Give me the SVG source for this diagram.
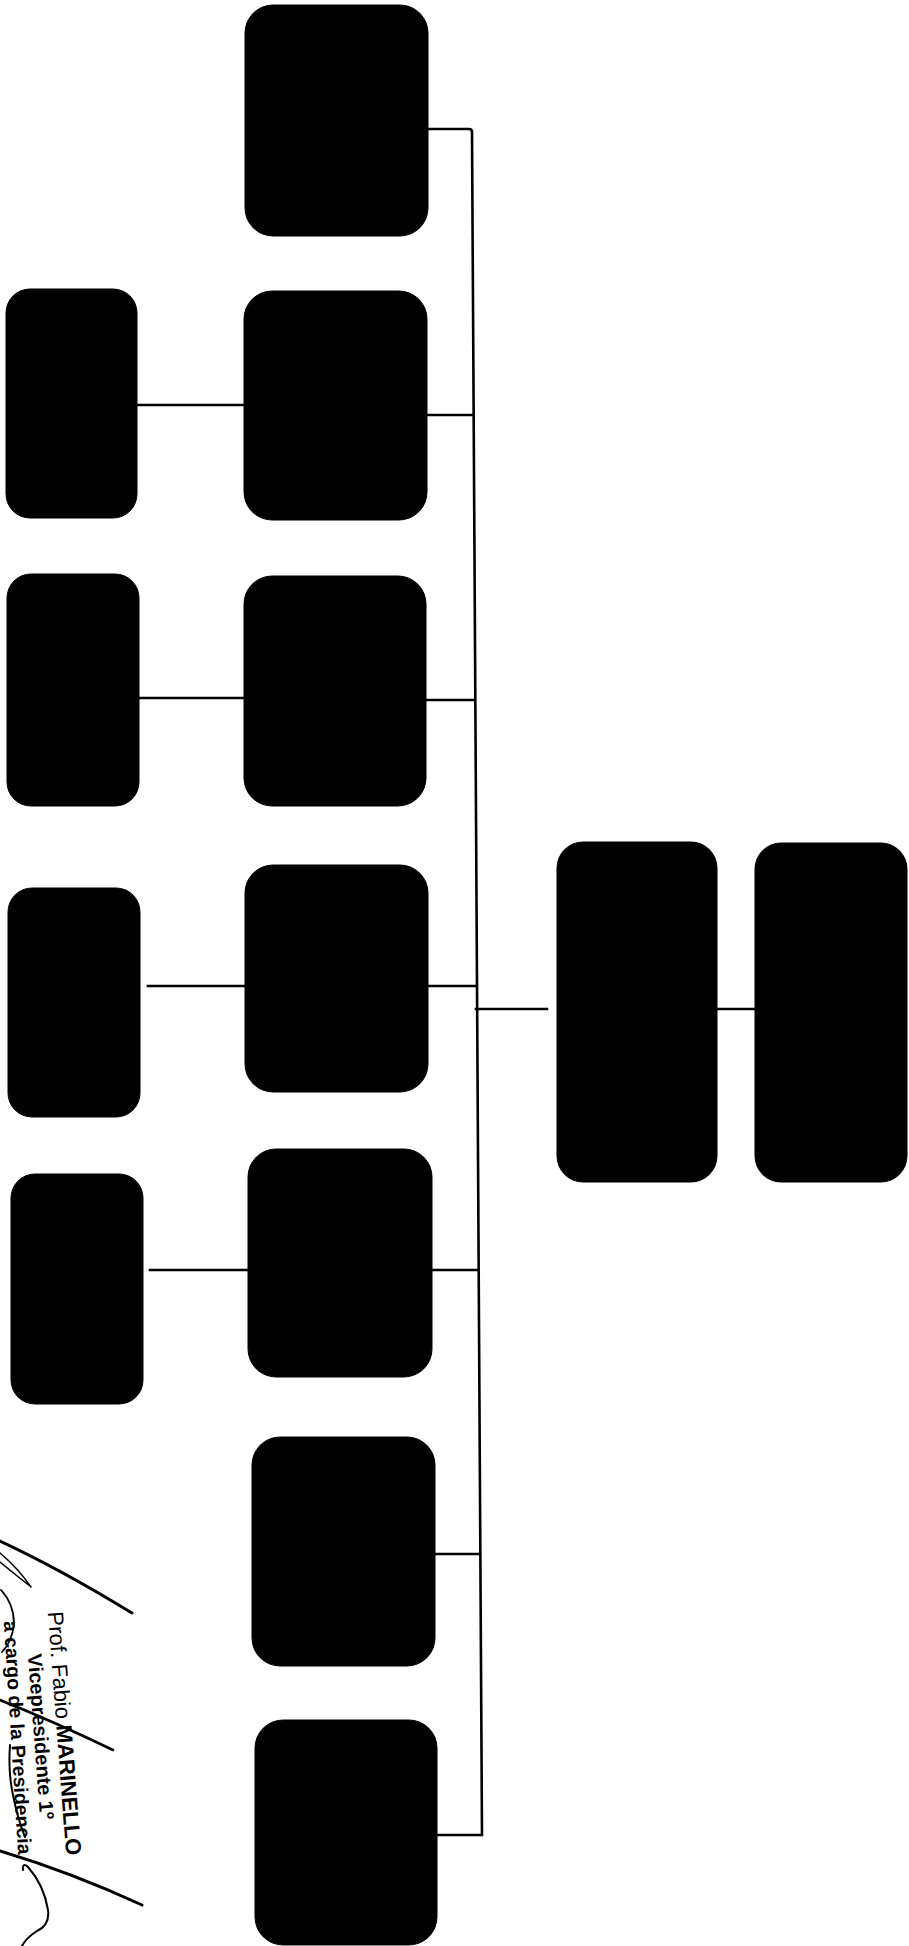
<svg xmlns="http://www.w3.org/2000/svg" width="909" height="1946" viewBox="0 0 909 1946">
<style>
.box{fill:#000;stroke:#000;stroke-width:1}
.ln{stroke:#000;stroke-width:2.6;fill:none;stroke-linecap:square}
.sig{stroke:#000;fill:none;stroke-linecap:round;stroke-linejoin:round}
.t{font-family:"Liberation Sans",Arial,sans-serif;fill:#000;text-anchor:middle}
</style>
<rect width="909" height="1946" fill="#fff"/>
<g id="connectors">
<path class="ln" d="M428,129 L469,129 Q472,129 472,132 L482,1835 L437,1835"/>
<line class="ln" x1="427" y1="415" x2="473" y2="415"/>
<line class="ln" x1="426" y1="700" x2="474" y2="700"/>
<line class="ln" x1="428" y1="986" x2="475" y2="986"/>
<line class="ln" x1="432" y1="1270" x2="477" y2="1270"/>
<line class="ln" x1="435" y1="1554" x2="479" y2="1554"/>
<line class="ln" x1="137" y1="405" x2="244" y2="405"/>
<line class="ln" x1="139" y1="698" x2="244" y2="698"/>
<line class="ln" x1="148" y1="986" x2="245" y2="986"/>
<line class="ln" x1="150" y1="1270" x2="248" y2="1270"/>
<line class="ln" x1="476" y1="1009" x2="547" y2="1009"/>
<line class="ln" x1="717" y1="1009" x2="755" y2="1009"/>
</g>
<g id="nodeA"><rect class="box" x="245" y="5" width="183" height="231" rx="28"/></g>
<g id="nodeB"><rect class="box" x="244" y="291" width="183" height="229" rx="28"/></g>
<g id="nodeC"><rect class="box" x="244" y="576" width="182" height="230" rx="28"/></g>
<g id="nodeD"><rect class="box" x="245" y="865" width="183" height="227" rx="28"/></g>
<g id="nodeE"><rect class="box" x="248" y="1149" width="184" height="228" rx="28"/></g>
<g id="nodeF"><rect class="box" x="252" y="1437" width="183" height="229" rx="28"/></g>
<g id="nodeG"><rect class="box" x="255" y="1720" width="182" height="225" rx="28"/></g>
<g id="nodeL1"><rect class="box" x="6" y="289" width="131" height="229" rx="24"/></g>
<g id="nodeL2"><rect class="box" x="7" y="574" width="132" height="232" rx="24"/></g>
<g id="nodeL3"><rect class="box" x="8" y="888" width="132" height="229" rx="24"/></g>
<g id="nodeL4"><rect class="box" x="11" y="1174" width="132" height="230" rx="24"/></g>
<g id="nodeR1"><rect class="box" x="557" y="842" width="160" height="340" rx="26"/></g>
<g id="nodeR2"><rect class="box" x="755" y="843" width="152" height="339" rx="26"/></g>
<g id="signature">
<path class="sig" stroke-width="3" d="M0,1541 Q62,1570 132,1613"/>
<path class="sig" stroke-width="1.5" d="M0,1553 Q18,1568 31,1587 M0,1562 Q16,1575 31,1587"/>
<path class="sig" stroke-width="1.8" d="M1,1590 Q14,1604 14,1624 Q12,1642 2,1652"/>
<path class="sig" stroke-width="2.6" d="M0,1700 Q55,1722 113,1750"/>
<path class="sig" stroke-width="2" d="M10,1745 Q8,1772 13,1795 Q18,1820 25,1837"/>
<path class="sig" stroke-width="3" d="M0,1851 Q70,1872 142,1905"/>
<path class="sig" stroke-width="2" d="M23,1870 Q22,1862 28,1867 Q44,1885 48,1910 Q50,1925 37,1931 Q26,1938 22,1946"/>
</g>
<g id="stamp">
<text class="t" font-size="22" transform="translate(57,1734) rotate(85.7)">Prof. Fabio <tspan font-weight="bold">MARINELLO</tspan></text>
<text class="t" font-size="20" font-weight="bold" transform="translate(34,1737) rotate(85.7)">Vicepresidente 1º</text>
<text class="t" font-size="19.5" font-weight="bold" transform="translate(11,1738) rotate(86.5)">a cargo de la Presidencia</text>
</g>
</svg>
